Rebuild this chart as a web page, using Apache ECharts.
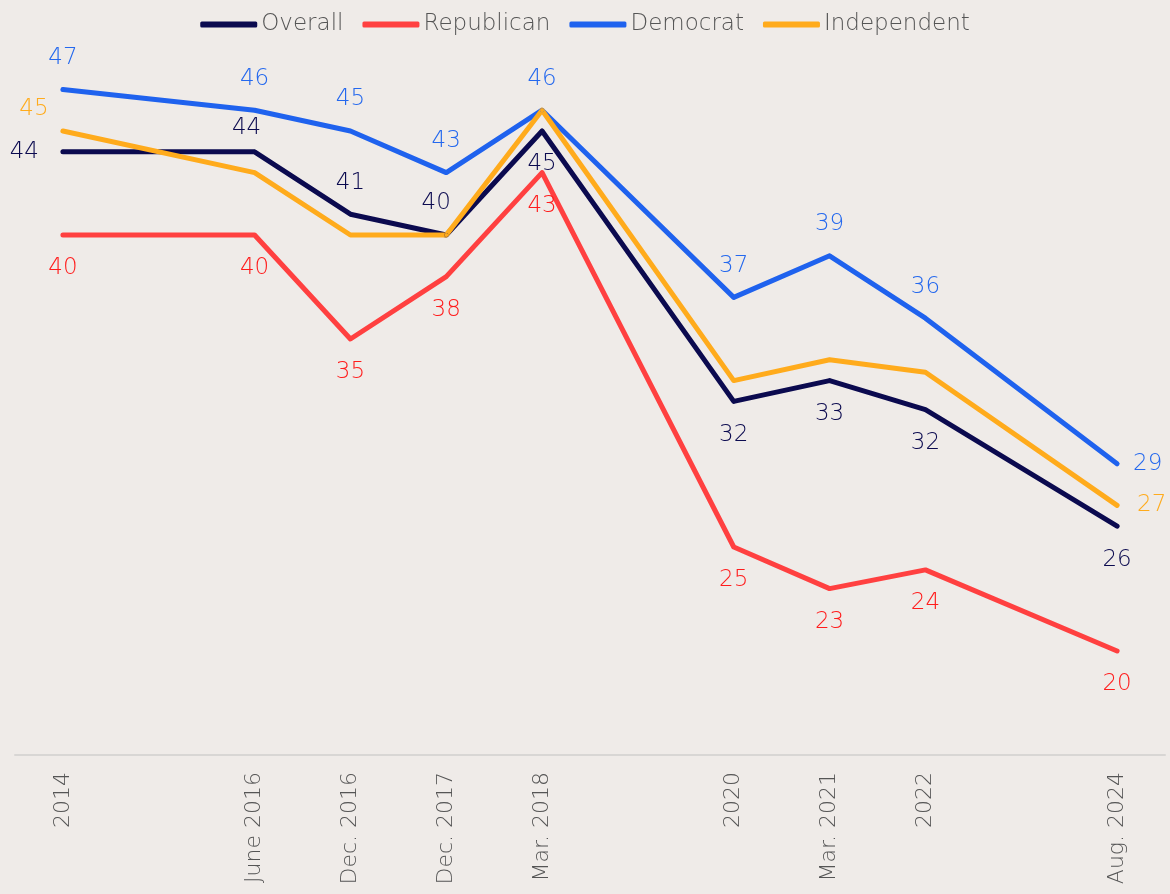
<!DOCTYPE html>
<html>
<head>
<meta charset="utf-8">
<script src="https://cdn.jsdelivr.net/npm/echarts@6/dist/echarts.min.js"></script>
<style>
  html, body { margin: 0; padding: 0; background: #efebe8; }
  #main { width: 1170px; height: 894px; }
</style>
</head>
<body>
<div id="main"></div>
<script>
// survey waves (blank slots keep the uneven spacing of the original)
var categories = ['2014', '', 'June 2016', 'Dec. 2016', 'Dec. 2017', 'Mar. 2018', '', '2020', 'Mar. 2021', '2022', '', 'Aug. 2024'];
var overall     = [44, null, 44, 41, 40, 45, null, 32, 33, 31.6, null, 26];
var republican  = [40, null, 40, 35, 38, 43, null, 25, 23, 23.9, null, 20];
var democrat    = [47, null, 46, 45, 43, 46, null, 37, 39, 36, null, 29];
var independent = [45, null, 43, 40, 40, 46, null, 33, 34, 33.4, null, 27];
var yTicks = [15, 50];

var FONT = 'DejaVu Sans';

// label placement for each series, by slot index
function labelFor(name, i, color) {
    var base = { show: true, color: color, fontSize: 23, fontWeight: 300, fontFamily: FONT, formatter: function (p) { return Math.round(p.value); } };
    var last = categories.length - 1;
    if (name === 'Overall') {
        if (i === 0) return Object.assign(base, { position: 'left', distance: 22 });
        if (i >= 5) return Object.assign(base, { position: 'bottom', distance: 20 });
        if (i === 2) return Object.assign(base, { position: 'top', distance: 10, offset: [-8, 0] });
        if (i === 4) return Object.assign(base, { position: 'top', distance: 18, offset: [-10, 0] });
        return Object.assign(base, { position: 'top', distance: 18 });
    }
    if (name === 'Republican') return Object.assign(base, { position: 'bottom', distance: 20 });
    if (name === 'Democrat') {
        if (i === last) return Object.assign(base, { position: 'right', distance: 14 });
        return Object.assign(base, { position: 'top', distance: 18 });
    }
    if (name === 'Independent') {
        if (i === 0) return Object.assign(base, { position: 'top', distance: 8, offset: [-29, 0] });
        if (i === last) return Object.assign(base, { position: 'right', distance: 18 });
        return { show: false };
    }
    return { show: false };
}

function makeSeries(name, values, lineColor, labelColor) {
    var data = values.map(function (v, i) {
        if (v === null) return null;
        return { value: v, label: labelFor(name, i, labelColor) };
    });
    return {
        name: name,
        type: 'line',
        data: data,
        connectNulls: true,
        symbol: 'circle',
        symbolSize: 4,
        itemStyle: { color: lineColor },
        lineStyle: { color: lineColor, width: 5, cap: 'round', join: 'round' },
        emphasis: { disabled: true },
        animation: false
    };
}

var myChart = echarts.init(document.getElementById('main'));
var option = {
    backgroundColor: '#efebe8',
    legend: {
        top: 8,
        left: 'center',
        itemWidth: 57,
        itemHeight: 6,
        itemGap: 19,
        icon: 'roundRect',
        textStyle: { color: '#555555', fontSize: 23, fontWeight: 300, fontFamily: FONT, padding: [0, 0, 0, -1] },
        data: ['Overall', 'Republican', 'Democrat', 'Independent']
    },
    grid: { left: 15, right: 5, top: 27, bottom: 139, containLabel: false },
    xAxis: {
        type: 'category',
        data: categories,
        boundaryGap: true,
        axisLine: { show: true, lineStyle: { color: '#d8d6d4', width: 2 } },
        axisTick: { show: false },
        axisLabel: { interval: 0, rotate: 90, margin: 17, color: '#555555', fontSize: 22, fontWeight: 300, fontFamily: FONT }
    },
    yAxis: {
        type: 'value',
        min: yTicks[0],
        max: yTicks[1],
        show: false,
        splitLine: { show: false }
    },
    series: [
        makeSeries('Overall', overall, '#0b0a4f', '#0b0a4f'),
        makeSeries('Republican', republican, '#ff4040', '#ff1c1c'),
        makeSeries('Democrat', democrat, '#1f62ee', '#2468ee'),
        makeSeries('Independent', independent, '#ffab1c', '#ffab1c')
    ]
};
myChart.setOption(option);
</script>
</body>
</html>
